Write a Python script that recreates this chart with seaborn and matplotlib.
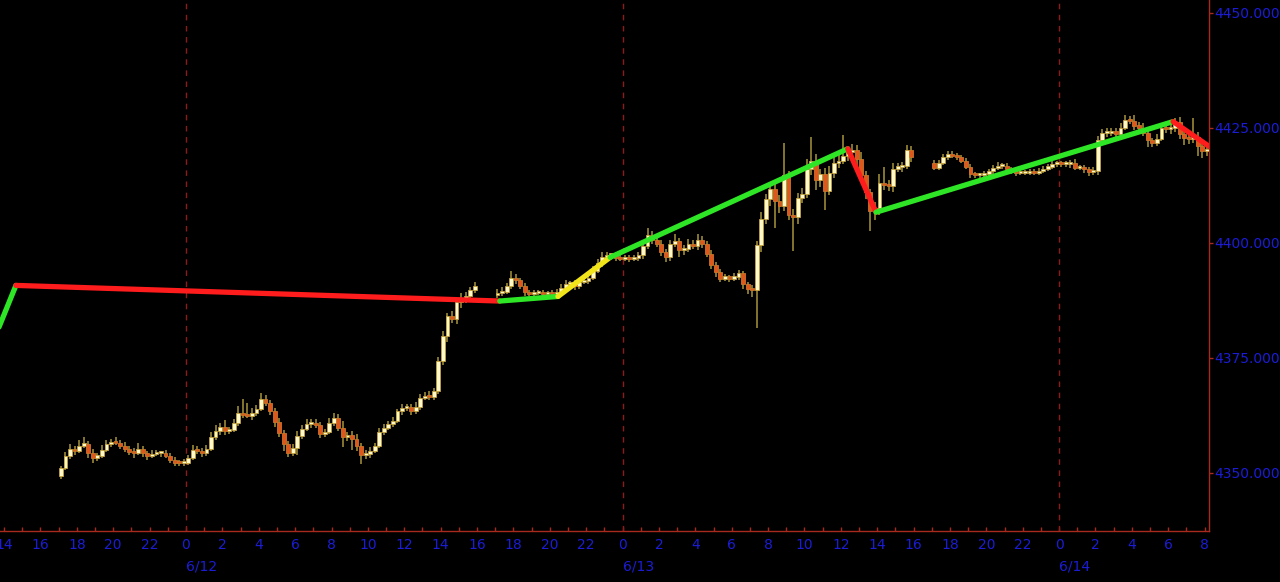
import numpy as np
import pandas as pd
import matplotlib
matplotlib.use("Agg")
import matplotlib.pyplot as plt
import matplotlib.transforms as mtransforms
import seaborn as sns

# ---------------- data (15-minute candles) ----------------
seg_starts = ["2023-06-11 17:00", "2023-06-12 17:00", "2023-06-13 17:00"]
first_opens = [4349.2, 4388.6, 4417.2]

closeA = [4351.0, 4353.7, 4355.2, 4354.8, 4355.9, 4356.3, 4354.3, 4353.3, 4353.7, 4355.0,
          4356.3, 4356.7, 4356.5, 4355.9, 4355.2, 4354.6, 4354.3, 4355.2, 4354.3, 4353.7,
          4354.1, 4354.3, 4354.3, 4353.7, 4352.8, 4352.2, 4352.0, 4352.2, 4353.3, 4355.0,
          4354.8, 4354.3, 4355.2, 4357.8, 4359.1, 4359.9, 4359.0, 4359.3, 4360.8, 4363.0,
          4362.6, 4362.4, 4363.0, 4363.9, 4366.1, 4365.2, 4363.5, 4361.1, 4358.7, 4356.3,
          4354.3, 4355.4, 4358.0, 4359.6, 4360.6, 4360.9, 4360.4, 4358.5, 4358.9, 4360.9,
          4361.9, 4359.8, 4357.8, 4358.3, 4357.4, 4355.9, 4353.9, 4354.1, 4354.8, 4355.9,
          4358.9, 4359.8, 4360.6, 4361.3, 4363.3, 4364.1, 4364.3, 4363.3, 4364.3, 4366.3,
          4366.7, 4366.5, 4367.8, 4374.3, 4379.8, 4384.0, 4383.3, 4387.0, 4387.6, 4388.5,
          4389.6, 4390.6]
hiA = [0.5, 0.8, 1.0, 0.6, 1.2, 1.5, 0.5, 0.8, 0.6, 1.0,
       0.8, 0.6, 1.0, 0.5, 0.7, 0.5, 0.8, 1.2, 0.6, 0.5,
       0.8, 0.6, 0.5, 0.7, 0.5, 0.6, 0.5, 0.8, 0.6, 1.0,
       0.7, 0.5, 0.8, 1.0, 1.2, 0.8, 1.5, 0.6, 0.8, 1.5,
       3.0, 2.5, 1.0, 0.8, 1.2, 0.8, 0.6, 0.5, 0.8, 0.6,
       0.5, 0.8, 1.0, 0.7, 1.0, 0.8, 0.8, 0.6, 0.7, 1.0,
       1.0, 0.8, 1.5, 0.6, 0.8, 1.0, 0.6, 0.8, 0.7, 0.5,
       0.8, 0.7, 0.6, 0.8, 0.6, 0.8, 0.7, 0.6, 1.0, 0.7,
       0.8, 1.0, 0.6, 0.8, 1.0, 0.8, 1.2, 0.8, 1.5, 0.8,
       0.7, 0.8]
loA = [0.6, 0.5, 0.8, 1.0, 0.6, 0.5, 1.0, 1.2, 0.8, 0.5,
       0.6, 0.8, 0.5, 0.7, 0.6, 0.8, 1.0, 0.5, 0.8, 1.0,
       0.6, 0.5, 0.8, 0.6, 0.7, 0.8, 0.6, 0.5, 0.6, 0.5,
       0.7, 0.8, 0.6, 0.5, 0.8, 1.0, 0.7, 0.6, 0.5, 0.7,
       0.8, 0.6, 1.0, 0.7, 0.5, 0.8, 1.0, 1.2, 1.0, 1.5,
       0.8, 0.6, 1.5, 0.6, 0.5, 0.8, 0.6, 1.0, 0.7, 0.5,
       0.8, 0.7, 2.2, 1.0, 2.5, 1.2, 2.0, 1.0, 0.8, 0.6,
       0.5, 0.8, 0.6, 0.7, 0.5, 0.8, 0.6, 0.8, 0.5, 0.7,
       0.6, 0.8, 0.7, 0.8, 1.0, 1.5, 0.8, 1.0, 1.2, 0.8,
       0.7, 0.6]

closeB = [4389.1, 4389.3, 4390.6, 4392.4, 4391.9, 4390.6, 4389.3, 4388.9, 4389.1, 4389.1,
          4388.9, 4389.0, 4388.9, 4389.1, 4390.2, 4390.9, 4391.1, 4390.6, 4391.5, 4391.7,
          4392.4, 4393.9, 4395.6, 4396.9, 4397.2, 4397.2, 4396.7, 4396.5, 4396.7, 4396.5,
          4396.7, 4397.2, 4399.3, 4401.7, 4400.6, 4399.8, 4398.0, 4396.9, 4399.6, 4400.4,
          4398.3, 4398.7, 4399.8, 4399.3, 4400.6, 4399.8, 4397.6, 4395.2, 4393.7, 4392.2,
          4392.4, 4392.2, 4392.6, 4393.3, 4390.9, 4390.0, 4389.6, 4399.5, 4405.2, 4409.5,
          4411.7, 4409.1, 4408.0, 4414.6, 4405.9, 4405.6, 4409.8, 4410.6, 4416.1, 4417.8,
          4413.5, 4415.0, 4411.3, 4415.2, 4417.2, 4417.8, 4418.9, 4419.6, 4420.2, 4418.2,
          4414.6, 4410.9, 4406.9, 4407.6, 4413.0, 4412.6, 4412.2, 4416.1, 4416.4, 4416.7,
          4420.2, 4418.5]
hiB = [0.8, 1.0, 0.6, 1.5, 0.8, 0.5, 0.6, 0.5, 0.6, 0.5,
       0.6, 0.5, 0.6, 0.8, 0.8, 1.0, 0.6, 0.8, 0.7, 0.6,
       0.8, 1.0, 0.8, 1.0, 0.8, 0.6, 0.8, 0.7, 0.6, 0.5,
       0.6, 0.8, 1.0, 1.5, 0.8, 0.6, 0.8, 0.7, 1.0, 1.5,
       0.6, 0.8, 1.0, 0.7, 1.2, 0.8, 0.6, 0.8, 0.5, 0.6,
       0.8, 0.6, 0.7, 0.8, 0.6, 0.5, 0.8, 0.8, 1.5, 1.0,
       1.5, 1.0, 1.2, 7.1, 1.0, 1.5, 1.0, 1.2, 2.0, 5.2,
       1.5, 1.0, 1.2, 1.5, 1.5, 1.2, 4.4, 1.0, 1.2, 1.0,
       1.5, 1.0, 0.8, 1.2, 2.0, 3.5, 1.0, 1.2, 1.0, 0.8,
       1.0, 0.8]
loB = [0.6, 0.8, 0.5, 0.6, 0.8, 0.6, 0.8, 0.5, 0.6, 0.5,
       0.6, 0.5, 0.6, 0.5, 0.8, 0.6, 0.5, 0.8, 0.6, 0.5,
       0.8, 0.6, 0.5, 0.8, 0.6, 0.5, 0.6, 0.5, 0.6, 0.8,
       0.5, 0.6, 0.8, 0.6, 1.0, 0.8, 1.0, 1.2, 0.8, 0.6,
       1.5, 1.0, 0.8, 0.6, 0.8, 1.0, 0.8, 1.0, 1.2, 0.8,
       0.6, 0.8, 0.6, 0.8, 1.0, 1.2, 1.5, 8.1, 1.5, 1.2,
       1.5, 6.0, 1.5, 1.2, 1.0, 7.5, 1.5, 1.2, 1.0, 1.5,
       2.0, 1.5, 4.3, 1.0, 1.2, 1.0, 0.8, 1.2, 1.0, 1.5,
       1.2, 1.5, 4.3, 2.0, 1.5, 1.2, 1.0, 1.2, 0.8, 1.0,
       0.8, 1.0]

closeC = [4416.3, 4417.4, 4418.5, 4419.3, 4418.9, 4418.5, 4417.8, 4416.5, 4414.8, 4414.6,
          4414.6, 4415.0, 4415.6, 4416.3, 4416.7, 4416.7, 4415.9, 4415.6, 4415.2, 4415.2,
          4415.2, 4415.4, 4415.2, 4415.6, 4416.1, 4416.5, 4417.0, 4417.2, 4417.0, 4417.0,
          4417.4, 4416.3, 4416.3, 4415.9, 4415.4, 4415.6, 4422.2, 4423.9, 4423.9, 4424.1,
          4423.7, 4425.0, 4426.7, 4426.5, 4425.4, 4425.0, 4423.9, 4422.2, 4421.7, 4422.6,
          4424.8, 4424.6, 4424.8, 4426.3, 4423.7, 4422.8, 4422.6, 4423.0, 4420.9, 4419.8,
          4420.4]
hiC = [0.8, 0.6, 0.8, 0.6, 0.5, 0.6, 0.5, 0.6, 0.5, 0.6,
       0.5, 0.6, 0.5, 0.6, 0.8, 0.6, 0.5, 0.6, 0.5, 0.6,
       0.5, 0.6, 0.5, 0.6, 0.5, 0.6, 0.8, 0.6, 0.5, 0.8,
       0.6, 0.8, 0.6, 0.5, 0.6, 0.8, 1.0, 0.8, 1.0, 0.8,
       0.8, 1.0, 1.0, 0.8, 1.2, 0.8, 1.0, 0.8, 0.6, 1.0,
       0.8, 1.2, 1.0, 0.8, 1.0, 1.2, 1.0, 4.0, 1.0, 0.8,
       0.6]
loC = [0.6, 0.5, 0.6, 0.5, 0.6, 0.5, 0.6, 0.5, 0.8, 0.6,
       0.5, 0.6, 0.5, 0.6, 0.5, 0.6, 0.5, 0.6, 0.8, 0.6,
       0.5, 0.6, 0.5, 0.6, 0.5, 0.6, 0.5, 0.6, 0.5, 0.6,
       0.8, 0.6, 0.5, 0.8, 1.0, 0.8, 1.0, 0.8, 1.0, 0.8,
       1.0, 0.8, 0.6, 0.8, 1.0, 1.2, 0.8, 1.5, 1.0, 0.8,
       0.6, 0.8, 1.0, 0.8, 1.2, 1.5, 1.2, 1.0, 2.0, 1.5,
       1.0]

# zigzag overlay
zz_times = ["2023-06-11 13:30", "2023-06-11 14:39", "2023-06-12 17:15", "2023-06-12 20:27",
            "2023-06-12 23:19", "2023-06-13 12:23", "2023-06-13 13:56", "2023-06-14 06:16",
            "2023-06-14 08:15"]
zz_values = [4379.5, 4390.7, 4387.3, 4388.3, 4396.8, 4420.4, 4406.6, 4426.3, 4420.9]
zz_colors = ["#2ee626", "#ff1c1c", "#2ee626", "#f2e61a", "#2ee626", "#ff1c1c", "#2ee626", "#ff1c1c"]

y_ticks = [4350, 4375, 4400, 4425, 4450]
day_labels = ["6/12", "6/13", "6/14"]
day_starts = ["2023-06-12 00:00", "2023-06-13 00:00", "2023-06-14 00:00"]

# ---------------- styling ----------------
BLUE = "#1c1cd6"
SPINE = "#a82a1e"
UP = "#fff8cc"
DOWN = "#e0561c"
EDGE = "#c4a23c"
WICK = "#a8943c"

sns.set_theme(style="dark", rc={"axes.facecolor": "black", "figure.facecolor": "black"})
plt.rcParams["font.family"] = ["DejaVu Sans"]

fig = plt.figure(figsize=(12.8, 5.82), dpi=100)
ax = fig.add_axes([0, 1 - 531 / 582, 1209 / 1280, 531 / 582])
ax.set_facecolor("black")
ax.grid(False)

t0 = pd.Timestamp("2023-06-12 00:00")


def to_hours(ts):
    return np.asarray((pd.DatetimeIndex(ts) - t0) / pd.Timedelta(hours=1), dtype=float)


for h in to_hours(day_starts):
    ax.axvline(h, color="#8c1c1c", lw=1, ls=(0, (4, 4)), zorder=1)

segments = [(closeA, hiA, loA), (closeB, hiB, loB), (closeC, hiC, loC)]
for (closes, hi_ext, lo_ext), start, fo in zip(segments, seg_starts, first_opens):
    times = pd.date_range(start, periods=len(closes), freq="15min")
    x = to_hours(times) + 0.125
    c = np.asarray(closes)
    o = np.concatenate([[fo], c[:-1]])
    top = np.maximum(o, c)
    bot = np.minimum(o, c)
    hi = top + np.asarray(hi_ext)
    lo = bot - np.asarray(lo_ext)
    ax.vlines(x, lo, hi, color=WICK, lw=1.1, zorder=2)
    height = np.maximum(top - bot, 0.45)
    up = c >= o
    ax.bar(x[up], height[up], bottom=bot[up], width=0.21, color=UP,
           edgecolor=EDGE, linewidth=0.6, zorder=3)
    ax.bar(x[~up], height[~up], bottom=bot[~up], width=0.21, color=DOWN,
           edgecolor="#c8782a", linewidth=0.6, zorder=3)

zx = to_hours(zz_times)
for k in range(len(zz_values) - 1):
    df = pd.DataFrame({"h": zx[k:k + 2], "v": zz_values[k:k + 2]})
    sns.lineplot(data=df, x="h", y="v", color=zz_colors[k], lw=3.8, ax=ax,
                 sort=False, zorder=5, solid_capstyle="round")

ax.set_xlim(-10.225, 56.24)
ax.set_ylim(4337.33, 4452.72)
ax.set_xlabel("")
ax.set_ylabel("")

# axes decoration
for s in ["left", "top"]:
    ax.spines[s].set_visible(False)
for s in ["bottom", "right"]:
    ax.spines[s].set_visible(True)
    ax.spines[s].set_color(SPINE)
    ax.spines[s].set_linewidth(1.0)

ax.yaxis.tick_right()
ax.set_yticks(y_ticks)
ax.set_yticklabels([f"{v:.3f}" for v in y_ticks])
ax.tick_params(axis="y", which="major", direction="out", length=3, width=1,
               color=SPINE, labelcolor=BLUE, labelsize=10, pad=0.5,
               left=False, right=True)

xt = np.arange(-10, 57, 2)
ax.set_xticks(xt)
ax.set_xticklabels([str(int(h) % 24) for h in xt])
ax.set_xticks(np.arange(-10, 57, 1), minor=True)
ax.tick_params(axis="x", which="both", direction="in", length=3, width=1,
               color=SPINE, labelcolor=BLUE, labelsize=10, pad=5, bottom=True)

trans = mtransforms.blended_transform_factory(ax.transData, ax.transAxes)
for h, lab in zip(to_hours(day_starts), day_labels):
    ax.text(h, -0.066, lab, transform=trans, ha="left", va="center",
            color=BLUE, fontsize=10, clip_on=False)

fig.savefig("out.png", dpi=100, facecolor="black")
